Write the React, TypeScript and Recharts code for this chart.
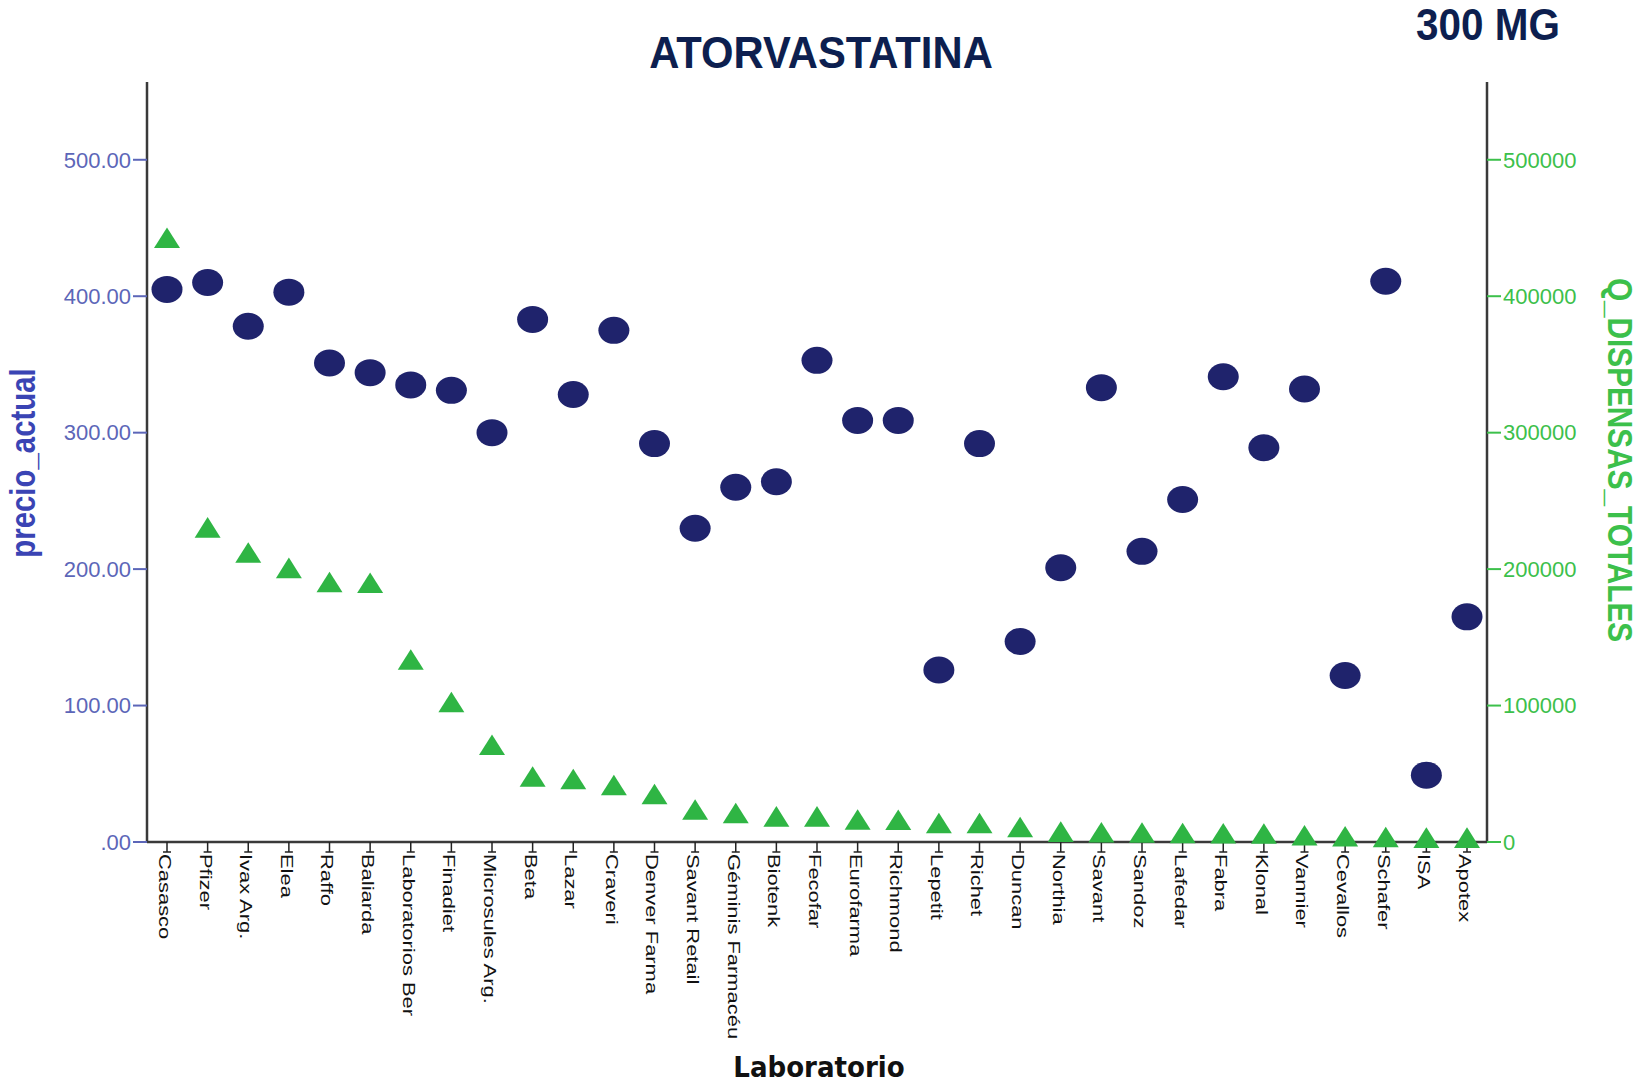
import React from "react";
import {
  ComposedChart,
  Scatter,
  XAxis,
  YAxis,
} from "recharts";

// laboratorios, in the order of the x axis
const labs = [
  "Casasco", "Pfizer", "Ivax Arg.", "Elea", "Raffo", "Baliarda",
  "Laboratorios Ber", "Finadiet", "Microsules Arg.", "Beta", "Lazar",
  "Craveri", "Denver Farma", "Savant Retail", "Géminis Farmacéu", "Biotenk",
  "Fecofar", "Eurofarma", "Richmond", "Lepetit", "Richet", "Duncan",
  "Northia", "Savant", "Sandoz", "Lafedar", "Fabra", "Klonal", "Vannier",
  "Cevallos", "Schafer", "ISA", "Apotex",
];

// precio_actual (left axis)
const precio = [
  405, 410, 378, 403, 351, 344, 335, 331, 300, 383, 328, 375, 292, 230,
  260, 264, 353, 309, 309, 126, 292, 147, 201, 333, 213, 251, 341, 289,
  332, 122, 411, 49, 165,
];

// Q_DISPENSAS_TOTALES (right axis)
const dispensas = [
  442800, 230600, 212200, 200900, 190600, 190000, 133800, 102600, 71300,
  48000, 46200, 41800, 35200, 23800, 21300, 18800, 18800, 16500, 16300,
  13900, 13900, 11000, 7600, 7100, 7000, 6600, 6400, 6200, 4900, 4200,
  3700, 3200, 3200,
];

const leftTicks = [0, 100, 200, 300, 400, 500];
const rightTicks = [0, 100000, 200000, 300000, 400000, 500000];

const data = labs.map((name, i) => ({
  name,
  precio: precio[i],
  dispensas: dispensas[i],
}));

const NAVY = "#1f236c";
const GREEN = "#2fb544";
const BLUE_TXT = "#5c66b8";
const GREEN_TXT = "#3cc04b";
const FRAME = "#3a3a3a";
const SANS = "'Liberation Sans', Arial, sans-serif";

const Dot = (p: any) => (
  <ellipse cx={p.cx} cy={p.cy} rx={15.5} ry={13.5} fill={NAVY} />
);

const Tri = (p: any) => (
  <path
    d={`M${p.cx},${p.cy - 10.3} L${p.cx + 13},${p.cy + 10.3} L${p.cx - 13},${p.cy + 10.3} Z`}
    fill={GREEN}
  />
);

// rotated category label with the little cap at the end of the tick
const LabTick = (p: any) => (
  <g transform={`translate(${p.x},${p.y})`}>
    <line x1={-4} x2={4} y1={-2} y2={-2} stroke="#222" strokeWidth={1.5} />
    <text
      transform="rotate(90) scale(1.29,1)"
      x={0}
      y={8}
      textAnchor="start"
      fontSize={17}
      fontFamily={SANS}
      fill="#111"
    >
      {p.payload.value}
    </text>
  </g>
);

const fmtLeft = (v: number) => (v === 0 ? ".00" : v.toFixed(2));

export default function App() {
  return (
    <div
      style={{
        position: "absolute",
        left: 0,
        top: 0,
        width: 1651,
        height: 1083,
        background: "#fff",
      }}
    >
      <ComposedChart
        width={1651}
        height={1083}
        data={data}
        margin={{ top: 82, right: 0, bottom: 0, left: 0 }}
      >
        <XAxis
          dataKey="name"
          type="category"
          interval={0}
          height={241}
          padding={{ left: 20, right: 20 }}
          tick={<LabTick />}
          tickSize={10}
          tickMargin={2}
          tickLine={{ stroke: "#222", strokeWidth: 1.5 }}
          axisLine={{ stroke: FRAME, strokeWidth: 2.5 }}
        />
        <XAxis
          xAxisId="top"
          dataKey="name"
          orientation="top"
          height={0}
          tick={false}
          tickLine={false}
          axisLine={{ stroke: FRAME, strokeWidth: 2.5 }}
        />
        <YAxis
          yAxisId="left"
          width={147}
          domain={[0, 557]}
          ticks={leftTicks}
          tickFormatter={fmtLeft}
          tickSize={14}
          tickMargin={2}
          tick={{ fill: BLUE_TXT, fontSize: 22, fontFamily: SANS }}
          tickLine={{ stroke: BLUE_TXT, strokeWidth: 2 }}
          axisLine={{ stroke: FRAME, strokeWidth: 2.5 }}
        />
        <YAxis
          yAxisId="right"
          orientation="right"
          width={164}
          domain={[0, 557000]}
          ticks={rightTicks}
          tickSize={14}
          tickMargin={2}
          tick={{ fill: GREEN_TXT, fontSize: 22, fontFamily: SANS }}
          tickLine={{ stroke: GREEN_TXT, strokeWidth: 2 }}
          axisLine={{ stroke: FRAME, strokeWidth: 2.5 }}
        />
        <Scatter
          yAxisId="right"
          dataKey="dispensas"
          shape={Tri}
          isAnimationActive={false}
        />
        <Scatter
          yAxisId="left"
          dataKey="precio"
          shape={Dot}
          isAnimationActive={false}
        />
      </ComposedChart>

      <svg
        width={1651}
        height={1083}
        style={{ position: "absolute", left: 0, top: 0, pointerEvents: "none" }}
      >
        <text
          transform="translate(821,68) scale(0.95,1)"
          textAnchor="middle"
          fontFamily={SANS}
          fontWeight="bold"
          fontSize={44}
          fill="#0d1f4f"
        >
          ATORVASTATINA
        </text>
        <text
          transform="translate(1488,40) scale(0.92,1)"
          textAnchor="middle"
          fontFamily={SANS}
          fontWeight="bold"
          fontSize={44}
          fill="#0d1f4f"
        >
          300 MG
        </text>
        <text
          transform="translate(35,463) rotate(-90) scale(0.84,1)"
          textAnchor="middle"
          fontFamily={SANS}
          fontWeight="bold"
          fontSize={35}
          fill="#3a44b4"
        >
          precio_actual
        </text>
        <text
          transform="translate(1608,460) rotate(90) scale(0.85,1)"
          textAnchor="middle"
          fontFamily={SANS}
          fontWeight="bold"
          fontSize={35}
          fill={GREEN_TXT}
        >
          Q_DISPENSAS_TOTALES
        </text>
        <text
          x={819}
          y={1077}
          textAnchor="middle"
          fontFamily="'DejaVu Sans Condensed', 'DejaVu Sans', sans-serif"
          fontWeight="bold"
          fontSize={29}
          fill="#111"
        >
          Laboratorio
        </text>
      </svg>
    </div>
  );
}
